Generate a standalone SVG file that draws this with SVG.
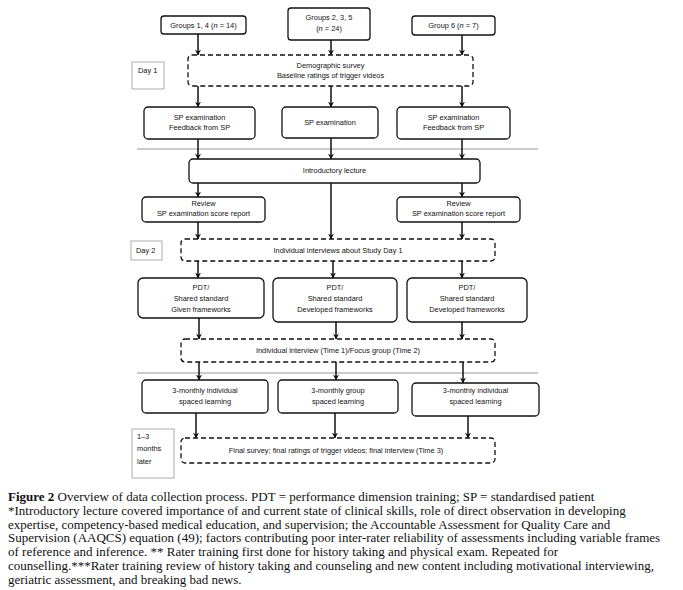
<svg xmlns="http://www.w3.org/2000/svg" width="683" height="590" viewBox="0 0 683 590">
<defs>
<marker id="ah" viewBox="0 0 10 10" refX="9" refY="5" markerWidth="4" markerHeight="4" orient="auto" markerUnits="strokeWidth">
<path d="M0,0 L10,5 L0,10 L3,5 z" fill="#111"/>
</marker>
<style>
.box{fill:#fff;stroke:#111;stroke-width:1.3}
.dash{fill:#fff;stroke:#111;stroke-width:1.3;stroke-dasharray:5,3}
.lab{fill:#fff;stroke:#999;stroke-width:0.8}
.t{font-family:"Liberation Sans",Arial,sans-serif;font-size:7.4px;fill:#111;text-anchor:middle}
.tl{font-family:"Liberation Sans",Arial,sans-serif;font-size:7.4px;fill:#111}
.cap{font-family:"Liberation Serif","Times New Roman",serif;font-size:13px;fill:#111}
.sep{stroke:#999;stroke-width:1}
.arr{stroke:#111;stroke-width:1.5;fill:none;marker-end:url(#ah)}
</style>
</defs>
<rect width="683" height="590" fill="#fff"/>
<line class="sep" x1="137" y1="149" x2="538" y2="149"/>
<line class="sep" x1="137" y1="373" x2="538" y2="373"/>
<g id="connectors">
<line class="arr" x1="198" y1="34" x2="198" y2="55"/>
<line class="arr" x1="331" y1="40" x2="331" y2="55"/>
<line class="arr" x1="462" y1="35" x2="462" y2="55"/>
<line class="arr" x1="198" y1="86" x2="198" y2="107"/>
<line class="arr" x1="331" y1="86" x2="331" y2="107"/>
<line class="arr" x1="462" y1="86" x2="462" y2="107"/>
<line class="arr" x1="198" y1="139" x2="198" y2="159"/>
<line class="arr" x1="331" y1="138" x2="331" y2="159"/>
<line class="arr" x1="462" y1="139" x2="462" y2="159"/>
<line class="arr" x1="198" y1="183" x2="198" y2="197"/>
<line class="arr" x1="331" y1="183" x2="331" y2="239"/>
<line class="arr" x1="462" y1="183" x2="462" y2="197"/>
<line class="arr" x1="198" y1="222" x2="198" y2="239"/>
<line class="arr" x1="462" y1="222" x2="462" y2="239"/>
<line class="arr" x1="198" y1="261" x2="198" y2="278"/>
<line class="arr" x1="333" y1="261" x2="333" y2="278"/>
<line class="arr" x1="462" y1="261" x2="462" y2="278"/>
<line class="arr" x1="199" y1="318" x2="199" y2="339"/>
<line class="arr" x1="336" y1="322" x2="336" y2="339"/>
<line class="arr" x1="462" y1="322" x2="462" y2="339"/>
<line class="arr" x1="199" y1="362" x2="199" y2="380"/>
<line class="arr" x1="336" y1="362" x2="336" y2="380"/>
<line class="arr" x1="463" y1="362" x2="463" y2="383"/>
<line class="arr" x1="196" y1="413" x2="196" y2="438"/>
<line class="arr" x1="335" y1="413" x2="335" y2="438"/>
<line class="arr" x1="468" y1="416" x2="468" y2="438"/>
</g>
<g id="g14"><rect class="box" x="161" y="16" width="85" height="18" rx="3"/><text class="t" x="203.5" y="27.5">Groups 1, 4 (<tspan font-style="italic">n</tspan> = 14)</text></g>
<g id="g235"><rect class="box" x="288" y="8" width="82" height="32" rx="3"/><text class="t" x="329" y="20">Groups 2, 3, 5</text><text class="t" x="329" y="31">(<tspan font-style="italic">n</tspan> = 24)</text></g>
<g id="g6"><rect class="box" x="412" y="16" width="83" height="19" rx="3"/><text class="t" x="453.5" y="28">Group 6 (<tspan font-style="italic">n</tspan> = 7)</text></g>
<g id="day1"><rect class="lab" x="132" y="62" width="32" height="27"/><text class="tl" x="138" y="73">Day 1</text></g>
<g id="demo"><rect class="dash" x="188" y="55" width="285" height="31" rx="4"/><text class="t" x="330.5" y="67.5">Demographic survey</text><text class="t" x="330.5" y="78">Baseline ratings of trigger videos</text></g>
<g id="sp1"><rect class="box" x="144" y="107" width="111" height="32" rx="4"/><text class="t" x="199.5" y="120">SP examination</text><text class="t" x="199.5" y="130">Feedback from SP</text></g>
<g id="sp2"><rect class="box" x="282" y="107" width="96" height="31" rx="4"/><text class="t" x="330" y="125">SP examination</text></g>
<g id="sp3"><rect class="box" x="397" y="107" width="113" height="32" rx="4"/><text class="t" x="453.5" y="120">SP examination</text><text class="t" x="453.5" y="130">Feedback from SP</text></g>
<g id="intro"><rect class="box" x="189" y="159" width="291" height="24" rx="4"/><text class="t" x="334.5" y="173">Introductory lecture</text></g>
<g id="rev1"><rect class="box" x="142" y="197" width="123" height="25" rx="4"/><text class="t" x="203.5" y="205.5">Review</text><text class="t" x="203.5" y="215.5">SP examination score report</text></g>
<g id="rev2"><rect class="box" x="397" y="197" width="123" height="25" rx="4"/><text class="t" x="458.5" y="205.5">Review</text><text class="t" x="458.5" y="215.5">SP examination score report</text></g>
<g id="day2"><rect class="lab" x="131" y="241" width="31" height="19"/><text class="tl" x="136" y="252.5">Day 2</text></g>
<g id="iv1"><rect class="dash" x="181" y="239" width="314" height="22" rx="4"/><text class="t" x="338" y="252.5">Individual interviews about Study Day 1</text></g>
<g id="pdt1"><rect class="box" x="138" y="278" width="126" height="40" rx="5"/><text class="t" x="201" y="289.5">PDT/</text><text class="t" x="201" y="300.5">Shared standard</text><text class="t" x="201" y="311.5">Given frameworks</text></g>
<g id="pdt2"><rect class="box" x="273" y="278" width="124" height="44" rx="5"/><text class="t" x="335" y="289.5">PDT/</text><text class="t" x="335" y="300.5">Shared standard</text><text class="t" x="335" y="311.5">Developed frameworks</text></g>
<g id="pdt3"><rect class="box" x="407" y="278" width="120" height="44" rx="5"/><text class="t" x="467" y="289.5">PDT/</text><text class="t" x="467" y="300.5">Shared standard</text><text class="t" x="467" y="311.5">Developed frameworks</text></g>
<g id="iv2"><rect class="dash" x="181" y="339" width="314" height="23" rx="4"/><text class="t" x="338" y="352.5">Individual interview (Time 1)/Focus group (Time 2)</text></g>
<g id="sl1"><rect class="box" x="142" y="380" width="126" height="33" rx="4"/><text class="t" x="205" y="392.5">3-monthly individual</text><text class="t" x="205" y="403.5">spaced learning</text></g>
<g id="sl2"><rect class="box" x="278" y="380" width="120" height="33" rx="4"/><text class="t" x="338" y="392.5">3-monthly group</text><text class="t" x="338" y="403.5">spaced learning</text></g>
<g id="sl3"><rect class="box" x="412" y="383" width="127" height="33" rx="4"/><text class="t" x="475.5" y="392.5">3-monthly individual</text><text class="t" x="475.5" y="403.5">spaced learning</text></g>
<g id="later"><rect class="lab" x="132" y="429" width="42" height="49"/><text class="tl" x="137" y="438.5">1–3</text><text class="tl" x="137" y="451">months</text><text class="tl" x="137" y="463.5">later</text></g>
<g id="final"><rect class="dash" x="181" y="438" width="314" height="25" rx="4"/><text class="t" x="336" y="453">Final survey; final ratings of trigger videos; final interview (Time 3)</text></g>
<g id="caption">
<text class="cap" x="8" y="501"><tspan font-weight="bold">Figure 2</tspan> Overview of data collection process. PDT = performance dimension training; SP = standardised patient</text>
<text class="cap" x="8" y="514.8">*Introductory lecture covered importance of and current state of clinical skills, role of direct observation in developing</text>
<text class="cap" x="8" y="528.6">expertise, competency-based medical education, and supervision; the Accountable Assessment for Quality Care and</text>
<text class="cap" x="8" y="542.4">Supervision (AAQCS) equation (49); factors contributing poor inter-rater reliability of assessments including variable frames</text>
<text class="cap" x="8" y="556.2">of reference and inference. ** Rater training first done for history taking and physical exam. Repeated for</text>
<text class="cap" x="8" y="570">counselling.***Rater training review of history taking and counseling and new content including motivational interviewing,</text>
<text class="cap" x="8" y="583.8">geriatric assessment, and breaking bad news.</text>
</g>
</svg>
